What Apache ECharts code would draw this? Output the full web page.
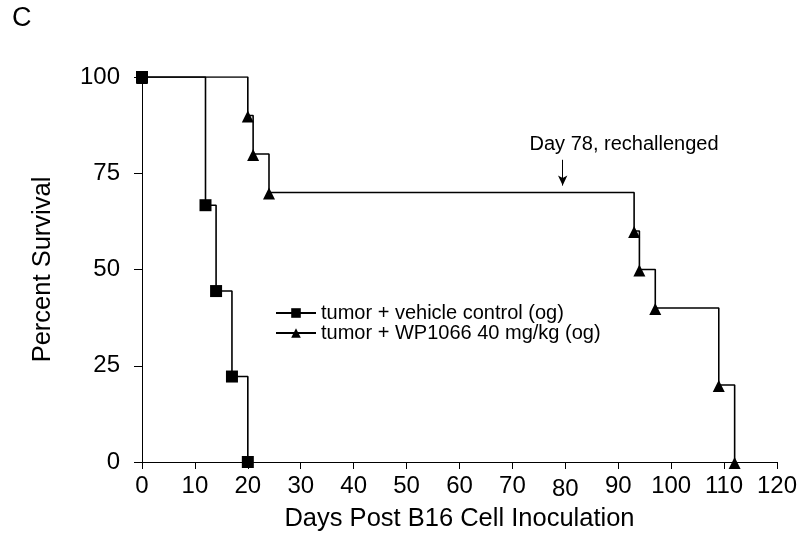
<!DOCTYPE html>
<html>
<head>
<meta charset="utf-8">
<script src="https://cdn.jsdelivr.net/npm/echarts@6/dist/echarts.min.js"></script>
<style>html,body{margin:0;padding:0;background:#fff}#c{width:800px;height:550px}</style>
</head>
<body>
<div id="c"></div>
<script>
var controlDays = [0, 12, 14, 17, 20];
var controlSurvival = [100, 66.7, 44.4, 22.2, 0];
var treatDays = [0, 20, 21, 24, 93, 94, 97, 109, 112];
var treatSurvival = [100, 90, 80, 70, 60, 50, 40, 20, 0];
var xTicks = [0, 10, 20, 30, 40, 50, 60, 70, 80, 90, 100, 110, 120];
var yTicks = [0, 25, 50, 75, 100];
var controlName = 'tumor + vehicle control (og)';
var treatName = 'tumor + WP1066 40 mg/kg (og)';
var noteText = 'Day 78, rechallenged';
var noteArrowDay = 79.5;

var FONT = "'Liberation Sans', Arial, sans-serif";
function pairs(xs, ys) { return xs.map(function (x, i) { return [x, ys[i]]; }); }

var chart = echarts.init(document.getElementById('c'), null, { renderer: 'canvas' });
chart.setOption({
  animation: false,
  backgroundColor: '#fff',
  textStyle: { fontFamily: FONT, color: '#000' },
  title: { text: 'C', left: 7, top: 0, textStyle: { fontFamily: FONT, fontSize: 27, fontWeight: 'normal', color: '#000' } },
  grid: { left: 142, right: 17, top: 77, bottom: 88 },
  legend: {
    orient: 'vertical', left: 270, top: 298, itemGap: 0, itemWidth: 40, itemHeight: 12,
    data: [controlName, treatName],
    textStyle: { fontFamily: FONT, fontSize: 20, color: '#000' }
  },
  xAxis: {
    type: 'value', min: 0, max: 120, interval: 10,
    name: 'Days Post B16 Cell Inoculation', nameLocation: 'middle', nameGap: 40,
    nameTextStyle: { fontFamily: FONT, fontSize: 25.5, color: '#000' },
    axisLine: { lineStyle: { color: '#000', width: 1 } },
    axisTick: { length: 7, lineStyle: { color: '#000' } },
    splitLine: { show: false },
    axisLabel: {
      margin: 12, color: '#000', fontFamily: FONT, fontSize: 24,
      formatter: function (v) { return xTicks.indexOf(v) < 0 ? '' : (v === 80 ? '{low|80}' : '{n|' + v + '}'); },
      rich: { n: { fontSize: 24, fontFamily: FONT, color: '#000' }, low: { fontSize: 24, fontFamily: FONT, color: '#000', lineHeight: 31 } }
    }
  },
  yAxis: {
    type: 'value', min: 0, max: 100, interval: 25,
    name: 'Percent Survival', nameLocation: 'middle', nameGap: 86,
    nameTextStyle: { fontFamily: FONT, fontSize: 25.5, color: '#000' },
    axisLine: { show: true, lineStyle: { color: '#000', width: 1 } },
    axisTick: { show: true, length: 8, lineStyle: { color: '#000' } },
    splitLine: { show: false },
    axisLabel: { margin: 22, color: '#000', fontFamily: FONT, fontSize: 24,
      formatter: function (v) { return yTicks.indexOf(v) < 0 ? '' : String(v); } }
  },
  series: [
    {
      name: treatName, type: 'line', step: 'end', data: pairs(treatDays, treatSurvival),
      symbol: 'triangle', symbolSize: 12, symbolOffset: [0, 1], showAllSymbol: true,
      lineStyle: { color: '#000', width: 1.6 }, itemStyle: { color: '#000' },
      z: 2,
      markLine: {
        silent: true, symbol: ['none', 'arrow'], symbolSize: [7, 10],
        lineStyle: { color: '#000', width: 1, type: 'solid' },
        label: { show: false },
        data: [[{ coord: [noteArrowDay, 78.5] }, { coord: [noteArrowDay, 71.8] }]]
      },
      markPoint: {
        silent: true, symbol: 'circle', symbolSize: 0,
        data: [{ coord: [91.1, 82.6], label: { show: true, position: 'inside', formatter: noteText, fontFamily: FONT, fontSize: 20, color: '#000' } }]
      }
    },
    {
      name: controlName, type: 'line', step: 'end', data: pairs(controlDays, controlSurvival),
      symbol: 'rect', symbolSize: 12, showAllSymbol: true,
      lineStyle: { color: '#000', width: 1.6 }, itemStyle: { color: '#000' },
      z: 3
    }
  ]
});
</script>
</body>
</html>
